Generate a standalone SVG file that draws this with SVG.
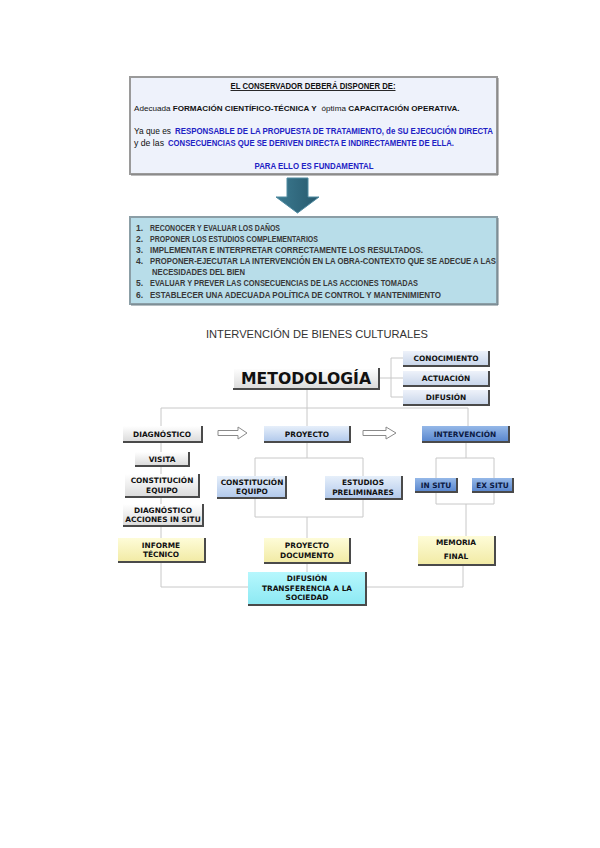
<svg xmlns="http://www.w3.org/2000/svg" width="600" height="848" viewBox="0 0 600 848">
<defs>
<linearGradient id="gGray" x1="0" y1="0" x2="0" y2="1"><stop offset="0" stop-color="#ffffff"/><stop offset="1" stop-color="#dcdcdc"/></linearGradient>
<linearGradient id="gLav" x1="0" y1="0" x2="0" y2="1"><stop offset="0" stop-color="#eef2fa"/><stop offset="1" stop-color="#c9d6ea"/></linearGradient>
<linearGradient id="gLBlue" x1="0" y1="0" x2="0" y2="1"><stop offset="0" stop-color="#e6effa"/><stop offset="1" stop-color="#b3caec"/></linearGradient>
<linearGradient id="gBlue" x1="0" y1="0" x2="0" y2="1"><stop offset="0" stop-color="#95b8e8"/><stop offset="1" stop-color="#5b88cf"/></linearGradient>
<linearGradient id="gYel" x1="0" y1="0" x2="0" y2="1"><stop offset="0" stop-color="#fefcd8"/><stop offset="1" stop-color="#f2eba6"/></linearGradient>
<linearGradient id="gCyan" x1="0" y1="0" x2="0" y2="1"><stop offset="0" stop-color="#b6f7fd"/><stop offset="1" stop-color="#8de9f3"/></linearGradient>
<linearGradient id="gArrow" x1="0" y1="0" x2="1" y2="0"><stop offset="0" stop-color="#3c7a90"/><stop offset="1" stop-color="#27596d"/></linearGradient>
</defs>
<style>
.doc{font-family:"Liberation Sans",Arial,sans-serif;font-size:9px;fill:#111}
.l2{font-size:8.1px}
.b{font-weight:bold}
.blue{fill:#1e22c4;font-weight:bold}
.lst{font-family:"Liberation Sans",Arial,sans-serif;font-size:8.5px;fill:#383838;font-weight:bold}
.title{font-family:"Liberation Sans",Arial,sans-serif;font-size:11px;fill:#333}
.btn{font-family:"DejaVu Sans",Verdana,sans-serif;font-size:7.4px;font-weight:bold;fill:#111;text-anchor:middle}
.dk{fill:#0c1a44}
.sh{fill:none;stroke:#4a4a4a;stroke-width:2}
.hl{fill:none;stroke:#ffffff;stroke-width:1}
.edge{fill:none;stroke:#c8c8c8;stroke-width:1}
.harrow{fill:#ffffff;stroke:#8a8a8a;stroke-width:1}
</style>

<!-- Top text boxes -->
<g id="box-conservador">
<rect x="130" y="77" width="367" height="97" fill="#eef2fb" stroke="#9a9a9a" stroke-width="2"/>
<path d="M498,78 V175 H131" fill="none" stroke="#7d7d7d" stroke-width="1"/>
<text class="doc b" x="313" y="89" text-anchor="middle" text-decoration="underline" textLength="165" lengthAdjust="spacingAndGlyphs">EL CONSERVADOR DEBERÁ DISPONER DE:</text>
<text class="doc l2" x="134" y="111">Adecuada</text>
<text class="doc l2 b" x="172.7" y="111">FORMACIÓN CIENTÍFICO-TÉCNICA Y</text>
<text class="doc l2" x="321.6" y="111">óptima</text>
<text class="doc l2 b" x="348.2" y="111">CAPACITACIÓN OPERATIVA.</text>
<text class="doc" x="134" y="134" textLength="37" lengthAdjust="spacingAndGlyphs">Ya que es</text>
<text class="doc blue" x="175" y="134" textLength="318" lengthAdjust="spacingAndGlyphs">RESPONSABLE DE LA PROPUESTA DE TRATAMIENTO, de SU  EJECUCIÓN DIRECTA</text>
<text class="doc" x="134" y="146" textLength="30" lengthAdjust="spacingAndGlyphs">y de las</text>
<text class="doc blue" x="168" y="146" textLength="286" lengthAdjust="spacingAndGlyphs">CONSECUENCIAS QUE SE DERIVEN DIRECTA E INDIRECTAMENTE DE ELLA.</text>
<text class="doc blue" x="314" y="169" text-anchor="middle" textLength="119" lengthAdjust="spacingAndGlyphs">PARA ELLO ES FUNDAMENTAL</text>
</g>

<g id="arrow-down">
<path d="M287,178 H308 V197 H319 L297.5,213 L276,197 H287 Z" fill="url(#gArrow)" stroke="#4f8aa0" stroke-width="1"/>
</g>

<g id="box-lista">
<rect x="130" y="217" width="367" height="87" fill="#b8dde9" stroke="#8b9ea6" stroke-width="2"/>
<path d="M498,218 V305 H131" fill="none" stroke="#6f7f86" stroke-width="1"/>
<text class="lst" x="136" y="231">1.</text><text class="lst" x="150" y="231" textLength="130" lengthAdjust="spacingAndGlyphs">RECONOCER Y EVALUAR LOS DAÑOS</text>
<text class="lst" x="136" y="242">2.</text><text class="lst" x="150" y="242" textLength="168" lengthAdjust="spacingAndGlyphs">PROPONER LOS ESTUDIOS COMPLEMENTARIOS</text>
<text class="lst" x="136" y="253">3.</text><text class="lst" x="150" y="253" textLength="273" lengthAdjust="spacingAndGlyphs">IMPLEMENTAR E  INTERPRETAR CORRECTAMENTE LOS RESULTADOS.</text>
<text class="lst" x="136" y="264">4.</text><text class="lst" x="150" y="264" textLength="346" lengthAdjust="spacingAndGlyphs">PROPONER-EJECUTAR LA INTERVENCIÓN EN LA OBRA-CONTEXTO QUE SE ADECUE A LAS</text>
<text class="lst" x="152" y="274.5" textLength="93" lengthAdjust="spacingAndGlyphs">NECESIDADES DEL BIEN</text>
<text class="lst" x="136" y="286">5.</text><text class="lst" x="150" y="286" textLength="268" lengthAdjust="spacingAndGlyphs">EVALUAR Y  PREVER LAS CONSECUENCIAS DE LAS ACCIONES TOMADAS</text>
<text class="lst" x="136" y="298">6.</text><text class="lst" x="150" y="298" textLength="291" lengthAdjust="spacingAndGlyphs">ESTABLECER UNA ADECUADA POLÍTICA DE CONTROL Y MANTENIMIENTO</text>
</g>

<g id="title">
<text class="title" x="206" y="338" textLength="222" lengthAdjust="spacingAndGlyphs">INTERVENCIÓN DE BIENES CULTURALES</text>
</g>

<!-- Connectors -->
<g id="connectors">
<path class="edge" d="M379,378 H403"/>
<path class="edge" d="M403,358 H391 V397 H403"/>
<path class="edge" d="M307,388 V426"/>
<path class="edge" d="M161,426 V408 H468 V426"/>
<path class="edge" d="M161,441 V538"/>
<path class="edge" d="M307,441 V458"/>
<path class="edge" d="M255,476 V458 H363 V476"/>
<path class="edge" d="M255,497 V517 H363 V498"/>
<path class="edge" d="M307,517 V538"/>
<path class="edge" d="M466,441 V458"/>
<path class="edge" d="M436,478 V458 H494 V478"/>
<path class="edge" d="M436,491 V504 H494 V491"/>
<path class="edge" d="M466,504 V536"/>
<path class="edge" d="M161,561 V587 H248"/>
<path class="edge" d="M307,562 V572"/>
<path class="edge" d="M463,564 V587 H366"/>
<path class="harrow" d="M218,430.5 H238 V427 L247,433 L238,439 V435.5 H218 Z"/>
<path class="harrow" d="M363,430.5 H386 V427 L396,433 L386,439 V435.5 H363 Z"/>
</g>

<!-- Nodes -->
<g id="metodologia">
<rect x="233" y="368" width="146" height="20" fill="url(#gGray)"/>
<path class="hl" d="M233.5,388 V368.5 H379"/><path class="sh" d="M379,368 V389 H233"/>
<text x="306" y="384" font-family="DejaVu Sans,Verdana,sans-serif" font-size="16" font-weight="bold" fill="#111" text-anchor="middle" textLength="130" lengthAdjust="spacingAndGlyphs">METODOLOGÍA</text>
</g>
<g id="conocimiento">
<rect x="403" y="351" width="86" height="14" fill="url(#gLav)"/>
<path class="sh" d="M489,351 V366 H403"/>
<text class="btn" x="446" y="361">CONOCIMIENTO</text>
</g>
<g id="actuacion">
<rect x="403" y="371" width="86" height="14" fill="url(#gLav)"/>
<path class="sh" d="M489,371 V386 H403"/>
<text class="btn" x="446" y="381">ACTUACIÓN</text>
</g>
<g id="difusion-m">
<rect x="403" y="390" width="86" height="14" fill="url(#gLav)"/>
<path class="sh" d="M489,390 V405 H403"/>
<text class="btn" x="446" y="400">DIFUSIÓN</text>
</g>
<g id="diagnostico">
<rect x="123" y="426" width="79" height="15" fill="url(#gGray)"/>
<path class="sh" d="M202,426 V442 H123"/>
<text class="btn" x="162" y="436.5">DIAGNÓSTICO</text>
</g>
<g id="proyecto">
<rect x="264" y="426" width="86" height="15" fill="url(#gLBlue)"/>
<path class="sh" d="M350,426 V442 H264"/>
<text class="btn" x="307" y="436.5">PROYECTO</text>
</g>
<g id="intervencion">
<rect x="422" y="426" width="87" height="15" fill="url(#gBlue)"/>
<path class="sh" d="M509,426 V442 H422"/>
<text class="btn dk" x="465" y="436.5">INTERVENCIÓN</text>
</g>
<g id="visita">
<rect x="135" y="452" width="54" height="13" fill="url(#gGray)"/>
<path class="sh" d="M189,452 V466 H135"/>
<text class="btn" x="162" y="461.5">VISITA</text>
</g>
<g id="constitucion-l">
<rect x="125" y="474" width="74" height="22" fill="url(#gGray)"/>
<path class="sh" d="M199,474 V497 H125"/>
<text class="btn" x="162" y="483">CONSTITUCIÓN</text>
<text class="btn" x="162" y="492.5">EQUIPO</text>
</g>
<g id="diag-acciones">
<rect x="123" y="504" width="80" height="21" fill="url(#gGray)"/>
<path class="sh" d="M203,504 V526 H123"/>
<text class="btn" x="163" y="513">DIAGNÓSTICO</text>
<text class="btn" x="163" y="522">ACCIONES IN SITU</text>
</g>
<g id="constitucion-c">
<rect x="217" y="476" width="69" height="21" fill="url(#gLBlue)"/>
<path class="sh" d="M286,476 V498 H217"/>
<text class="btn" x="252" y="485">CONSTITUCIÓN</text>
<text class="btn" x="252" y="494">EQUIPO</text>
</g>
<g id="estudios">
<rect x="325" y="476" width="77" height="22" fill="url(#gLBlue)"/>
<path class="sh" d="M402,476 V499 H325"/>
<text class="btn" x="363" y="485">ESTUDIOS</text>
<text class="btn" x="363" y="494.5">PRELIMINARES</text>
</g>
<g id="in-situ">
<rect x="415" y="478" width="42" height="13" fill="url(#gBlue)"/>
<path class="sh" d="M457,478 V492 H415"/>
<text class="btn dk" x="436" y="487.5">IN SITU</text>
</g>
<g id="ex-situ">
<rect x="472" y="478" width="41" height="13" fill="url(#gBlue)"/>
<path class="sh" d="M513,478 V492 H472"/>
<text class="btn dk" x="492.5" y="487.5">EX SITU</text>
</g>
<g id="informe">
<rect x="118" y="538" width="87" height="23" fill="url(#gYel)"/>
<path class="sh" d="M205,538 V562 H118"/>
<text class="btn" x="161" y="548">INFORME</text>
<text class="btn" x="161" y="557">TÉCNICO</text>
</g>
<g id="proyecto-doc">
<rect x="264" y="538" width="86" height="24" fill="url(#gYel)"/>
<path class="sh" d="M350,538 V563 H264"/>
<text class="btn" x="307" y="548">PROYECTO</text>
<text class="btn" x="307" y="558">DOCUMENTO</text>
</g>
<g id="memoria">
<rect x="418" y="536" width="77" height="28" fill="url(#gYel)"/>
<path class="sh" d="M495,536 V565 H418"/>
<text class="btn" x="456" y="545">MEMORIA</text>
<text class="btn" x="456" y="559">FINAL</text>
</g>
<g id="difusion-transferencia">
<rect x="248" y="572" width="118" height="32" fill="url(#gCyan)"/>
<path class="sh" d="M366,572 V605 H248"/>
<text class="btn" x="307" y="581">DIFUSIÓN</text>
<text class="btn" x="307" y="590.5">TRANSFERENCIA A LA</text>
<text class="btn" x="307" y="600">SOCIEDAD</text>
</g>
</svg>
